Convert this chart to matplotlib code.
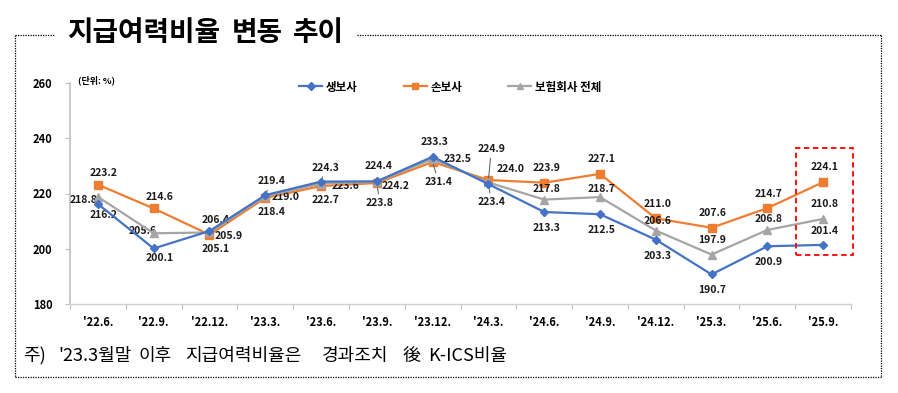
import matplotlib
matplotlib.use("Agg")
import matplotlib.pyplot as plt
from matplotlib.lines import Line2D
from matplotlib.patches import Rectangle

plt.rcParams['font.family'] = ['Noto Sans CJK KR', 'DejaVu Sans']

OUTPUT_FILE = "out.png"

# data
periods = ["'22.6.", "'22.9.", "'22.12.", "'23.3.", "'23.6.", "'23.9.", "'23.12.",
           "'24.3.", "'24.6.", "'24.9.", "'24.12.", "'25.3.", "'25.6.", "'25.9."]
life = [216.2, 200.1, 206.4, 219.4, 224.3, 224.4, 233.3,
        223.4, 213.3, 212.5, 203.3, 190.7, 200.9, 201.4]
nonlife = [223.2, 214.6, 205.1, 218.4, 222.7, 223.8, 231.4,
           224.9, 223.9, 227.1, 211.0, 207.6, 214.7, 224.1]
total = [218.8, 205.6, 205.9, 219.0, 223.6, 224.2, 232.5,
         224.0, 217.8, 218.7, 206.6, 197.9, 206.8, 210.8]
y_ticks = [180, 200, 220, 240, 260]

title_words = ['지급여력비율', '변동', '추이']
note_words = ['주)', "'23.3월말", '이후', '지급여력비율은', '경과조치', '後', 'K-ICS비율']

# label offsets in pixels (dx, dy up), and which labels get a leader line
life_off = [(6, -11), (6, -10), (6, 11), (6, 14), (4, 14), (2, 15), (2, 15),
            (3, -18), (2, -16), (2, -16), (2, -16), (1, -16), (1, -16), (1, 14)]
nonlife_off = [(6, 12), (6, 11), (6, -14), (6, -14), (4, -14), (3, -20), (6, -20),
               (3, 31), (2, 15), (2, 15), (2, 14), (1, 15), (1, 14), (1, 15)]
total_off = [(-14, -3), (-11, 2), (19, -4), (20, -1), (24, -2), (19, -4), (25, 0),
             (22, 13), (2, 11), (2, 8), (2, 10), (1, 15), (1, 11), (1, 15)]
life_lead = {3, 4, 7}
nonlife_lead = {5, 6, 7}

# left edges (px) of title / footnote words
title_x = [67, 232, 293]
note_x = [23, 58, 139, 185, 322, 403, 428]

BLUE = '#4472C4'
ORANGE = '#ED7D31'
GRAY = '#A5A5A5'
W, H = 898, 393


def label_series(ax, vals, offs, leads):
    for i, v in enumerate(vals):
        dx, dy = offs[i]
        kw = {}
        if i in leads:
            kw['arrowprops'] = dict(arrowstyle='-', color='#595959', lw=0.7,
                                    shrinkA=1, shrinkB=0)
        ax.annotate(f"{v:.1f}", (i, v), xytext=(dx * 0.72, dy * 0.72),
                    textcoords='offset points', ha='center', va='center',
                    fontsize=7.5, fontweight='bold', color='#1a1a1a', **kw)


def main():
    fig = plt.figure(figsize=(W / 100, H / 100), dpi=100)
    ax = fig.add_axes([70 / W, 1 - 304 / H, 781 / W, (304 - 83) / H])

    x = list(range(len(periods)))
    ax.plot(x, life, color=BLUE, lw=1.6, marker='D', ms=4.5, label='생보사', zorder=4)
    ax.plot(x, nonlife, color=ORANGE, lw=1.6, marker='s', ms=5.5, label='손보사', zorder=3)
    ax.plot(x, total, color=GRAY, lw=1.6, marker='^', ms=6, label='보험회사 전체', zorder=3.5)

    label_series(ax, life, life_off, life_lead)
    label_series(ax, nonlife, nonlife_off, nonlife_lead)
    label_series(ax, total, total_off, set())

    ax.set_xlim(-0.5, len(periods) - 0.5)
    ax.set_ylim(180, 260)
    ax.set_yticks(y_ticks)
    ax.set_yticklabels([str(t) for t in y_ticks], fontsize=8, fontweight='bold')
    ax.set_xticks(x)
    ax.set_xticklabels(periods, fontsize=8, fontweight='bold')
    ax.set_xticks([i - 0.5 for i in range(len(periods) + 1)], minor=True)
    ax.tick_params(axis='x', which='major', length=0, pad=9)
    ax.tick_params(axis='x', which='minor', length=3.5, color='#BFBFBF', width=0.8)
    ax.tick_params(axis='y', length=3.5, color='#BFBFBF', width=0.8, pad=9)
    for s in ['top', 'right']:
        ax.spines[s].set_visible(False)
    ax.spines['left'].set_color('#BFBFBF')
    ax.spines['bottom'].set_color('#D0D0D0')
    ax.spines['left'].set_linewidth(1.2)
    ax.spines['bottom'].set_linewidth(1.0)

    # highlight the latest quarter
    ax.add_patch(Rectangle((12.51, 197.8), 1.02, 38.7, fill=False, ec='#FF0000',
                           lw=1.3, ls=(0, (3, 2)), zorder=5, clip_on=False))

    ax.legend(loc='center', bbox_to_anchor=(450 / W, 1 - 87 / H),
              bbox_transform=fig.transFigure, ncol=3, frameon=False,
              prop={'size': 8.3, 'weight': 'bold'}, handlelength=2.0,
              columnspacing=4.0, handletextpad=0.3, markerscale=0.8)

    fig.text(78 / W, 1 - 80 / H, '(단위: %)', fontsize=6.5, fontweight='bold',
             va='center', ha='left')

    # title and dotted frame
    for word, px in zip(title_words, title_x):
        fig.text(px / W, 1 - 33 / H, word, fontsize=20, fontweight='bold',
                 va='center', ha='left')
    dot = dict(color='black', lw=0.9, ls=(0, (1, 1)), transform=fig.transFigure)

    def seg(x0, y0, x1, y1):
        fig.add_artist(Line2D([x0 / W, x1 / W], [1 - y0 / H, 1 - y1 / H], **dot))
    seg(15, 34.5, 54, 34.5)
    seg(357, 34.5, 881, 34.5)
    seg(15, 34.5, 15, 377)
    seg(881, 34.5, 881, 377)
    seg(15, 377, 881, 377)

    for word, px in zip(note_words, note_x):
        fig.text(px / W, 1 - 356 / H, word, fontsize=13, va='center', ha='left')

    fig.savefig(OUTPUT_FILE, dpi=100)
    plt.close(fig)


if __name__ == "__main__":
    main()
